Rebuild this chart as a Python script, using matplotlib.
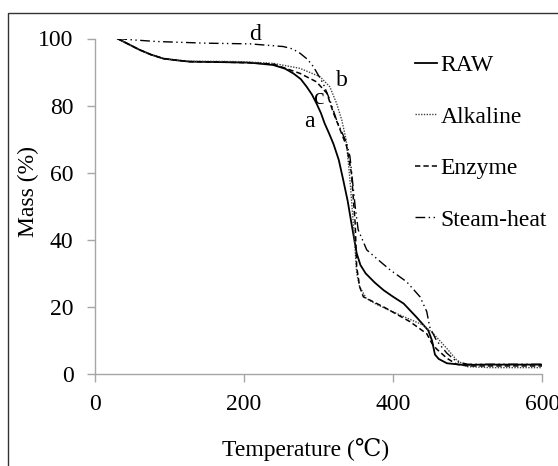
import matplotlib
matplotlib.use("Agg")
import matplotlib.pyplot as plt
from matplotlib.patches import Rectangle

# ---- data ----
raw_T = [30, 45, 60, 75, 92, 110, 127, 160, 208, 239, 255, 266, 276, 284, 291, 297, 303, 308, 314, 320, 327, 333, 339, 344, 351, 356, 363, 375, 387, 400, 414, 431, 447, 452, 456, 461, 472, 494, 520, 560, 600]
raw_m = [100, 98.3, 96.6, 95.2, 94.0, 93.5, 93.1, 93.0, 92.8, 92.1, 91.0, 89.6, 87.9, 85.6, 83.3, 80.7, 77.8, 74.7, 71.7, 68.5, 63.8, 57.8, 51.5, 44.9, 36.0, 32.5, 30.0, 27.3, 25.0, 23.0, 21.0, 17.0, 13.0, 10.0, 5.8, 4.5, 3.2, 2.7, 2.8, 2.8, 2.8]

alk_T = [30, 45, 60, 75, 92, 110, 127, 160, 195, 239, 275, 302, 315, 324, 331, 337, 342, 346.5, 351, 355, 364, 380, 409, 440, 454, 472, 485, 499, 530, 600]
alk_m = [100, 98.3, 96.6, 95.2, 94.0, 93.5, 93.2, 93.2, 93.1, 92.6, 91.1, 88.6, 85.6, 80.7, 75.7, 69.7, 57.8, 44.9, 30.0, 26.0, 22.5, 20.5, 17.6, 14.6, 12.0, 7.6, 4.2, 2.2, 1.9, 1.9]

enz_T = [30, 45, 60, 75, 92, 110, 127, 160, 200, 239, 275, 297, 311, 320, 329, 337.6, 344, 349, 351, 355, 360, 387, 422.5, 445, 452, 458, 472, 485, 500, 600]
enz_m = [100, 98.3, 96.6, 95.2, 94.0, 93.5, 93.1, 93.0, 92.8, 92.4, 89.6, 87.1, 83.7, 77.7, 72.7, 67.8, 59.8, 44.9, 32.0, 26.0, 23.0, 20.0, 15.6, 12.0, 9.1, 7.5, 4.7, 2.9, 2.4, 2.4]

stm_T = [30, 50, 83, 150, 208, 252.6, 265, 275, 285, 293, 306, 315, 324, 337.6, 342, 349, 353, 364.5, 380, 396, 418, 436, 445, 449, 458, 472, 485, 500, 600]
stm_m = [100, 99.6, 99.1, 98.6, 98.4, 97.6, 96.9, 95.6, 93.8, 91.6, 86.6, 81.7, 75.7, 68.8, 64.8, 49.9, 43.0, 37.0, 34.0, 31.0, 27.5, 23.0, 18.6, 14.0, 10.0, 6.2, 3.7, 2.9, 2.9]

series_names = ["RAW", "Alkaline", "Enzyme", "Steam-heat"]
curve_letters = ["a", "b", "c", "d"]
letter_T = [287, 331, 299, 215]
letter_m = [75.2, 87.6, 82.0, 101.2]

x_ticks = [0, 200, 400, 600]
y_ticks = [0, 20, 40, 60, 80, 100]

plt.rcParams['font.family'] = ['Liberation Serif', 'DejaVu Serif']
FS = 17

fig = plt.figure(figsize=(5.58, 4.66), dpi=100)
ax = fig.add_axes([95/558, 1-374/466, (542.3-95)/558, (374-38.5)/466])

styles = [
    dict(linestyle='-', linewidth=1.3),
    dict(linestyle=(0, (1, 1)), linewidth=1.0, color='#444444'),
    dict(linestyle=(0, (3.5, 2)), linewidth=1.1),
    dict(linestyle=(0, (7, 2.5, 1, 2.5, 1, 2.5)), linewidth=1.0),
]
data = [(raw_T, raw_m), (alk_T, alk_m), (enz_T, enz_m), (stm_T, stm_m)]
for (T, m), name, st in zip(data, series_names, styles):
    kw = dict(color='black')
    kw.update(st)
    ax.plot(T, m, label=name, **kw)

for L, t, m in zip(curve_letters, letter_T, letter_m):
    ax.text(t, m, L, fontsize=FS, ha='center', va='center', clip_on=False)

ax.set_xlim(0, 600)
ax.set_ylim(0, 100)
ax.set_xticks(x_ticks)
ax.set_yticks(y_ticks)
for s in ['top', 'right']:
    ax.spines[s].set_visible(False)
for s in ['left', 'bottom']:
    ax.spines[s].set_color('#a6a6a6')
    ax.spines[s].set_linewidth(1.0)
ax.tick_params(axis='both', direction='out', length=5.5, width=1.0, color='#a6a6a6', labelsize=FS)
ax.tick_params(axis='x', pad=9)
ax.tick_params(axis='y', pad=10)

ax.set_xlabel('Temperature (\u2103)', fontsize=FS)
ax.xaxis.set_label_coords((306-95)/447.3, -0.19)
ax.set_ylabel('Mass (%)', fontsize=FS)
ax.yaxis.set_label_coords(-0.125, 0.543)

leg = ax.legend(loc='upper left', bbox_to_anchor=(0.715, 0.952), frameon=False,
                fontsize=FS, handlelength=0.95, handletextpad=0.15,
                labelspacing=1.27, borderaxespad=0, borderpad=0)

fig.patches.append(Rectangle((7.5/558, -0.05), 1.0, 1-13/466+0.05, transform=fig.transFigure,
                             fill=False, edgecolor='#333333', linewidth=1.0))

fig.savefig('out.png', dpi=100)
